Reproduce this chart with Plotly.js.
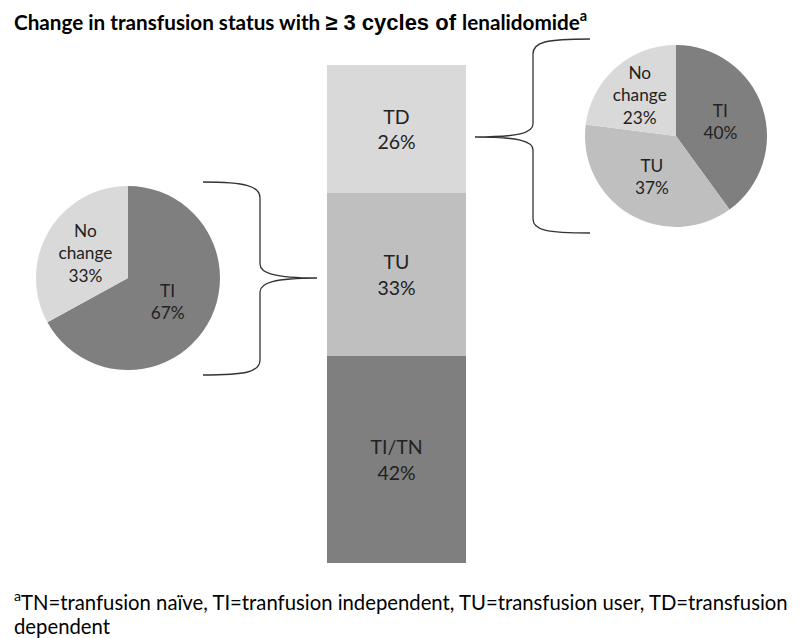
<!DOCTYPE html>
<html>
<head>
<meta charset="utf-8">
<script src="https://cdn.plot.ly/plotly-3.0.1.min.js"></script>
<style>html,body{margin:0;padding:0;background:#fff;}#chart{width:800px;height:638px;}</style>
</head>
<body>
<div id="chart"></div>
<script>
// Stacked bar: overall transfusion status
const barCategories = ["TI/TN", "TU", "TD"];
const barValues = [42, 33, 26];
const barColors = ["#7f7f7f", "#bfbfbf", "#d9d9d9"];

// Left pie: outcome of TU patients
const leftLabels = ["TI", "No change"];
const leftValues = [67, 33];
const leftColors = ["#7f7f7f", "#d9d9d9"];

// Right pie: outcome of TD patients
const rightLabels = ["TI", "TU", "No change"];
const rightValues = [40, 37, 23];
const rightColors = ["#7f7f7f", "#bfbfbf", "#d9d9d9"];

const W = 800, H = 638;
const px = x => x / W, py = y => 1 - y / H;
function pathPx(cmds) {
  return cmds.map(c => c[0] + " " + c.slice(1).map((v, i) => i % 2 === 0 ? px(v).toFixed(5) : py(v).toFixed(5)).join(" ")).join(" ");
}

const FAM = "Lato, 'Open Sans', sans-serif";
const pieFont = {family: FAM, size: 17.5, color: "#222"};

const traces = barCategories.map((c, i) => ({
  type: "bar",
  x: [0],
  y: [barValues[i]],
  name: c,
  marker: {color: barColors[i], line: {width: 0}},
  text: [c + "<br>" + barValues[i] + "%"],
  textposition: "inside",
  insidetextanchor: "middle",
  textfont: {family: FAM, size: 19.5, color: "#222"},
  hoverinfo: "skip",
  xaxis: "x", yaxis: "y"
}));

function pieTrace(labels, values, colors, domain) {
  return {
    type: "pie",
    labels: labels,
    values: values,
    text: labels.map((l, i) => l.replace(" ", "<br>") + "<br>" + values[i] + "%"),
    textinfo: "text",
    textposition: "inside",
    insidetextorientation: "horizontal",
    textfont: pieFont,
    marker: {colors: colors, line: {width: 0}},
    sort: false,
    direction: "clockwise",
    rotation: 0,
    domain: domain,
    showlegend: false,
    hoverinfo: "skip"
  };
}

traces.push(pieTrace(leftLabels, leftValues, leftColors,
  {x: [px(128 - 92), px(128 + 92)], y: [py(278 + 92), py(278 - 92)]}));
traces.push(pieTrace(rightLabels, rightValues, rightColors,
  {x: [px(676 - 91), px(676 + 91)], y: [py(136 + 91), py(136 - 91)]}));

const leftBrace = pathPx([
  ["M", 203, 182], ["C", 246, 182, 260, 186, 260, 198], ["L", 260, 264],
  ["C", 260, 273, 274, 278, 317, 278], ["C", 274, 278, 260, 283, 260, 292],
  ["L", 260, 360], ["C", 260, 372, 246, 375, 203, 375]
]);
const rightBrace = pathPx([
  ["M", 590, 39], ["C", 546, 39, 533, 42, 533, 54], ["L", 533, 124],
  ["C", 533, 133, 518, 137, 475, 137], ["C", 518, 137, 533, 141, 533, 150],
  ["L", 533, 219], ["C", 533, 230, 546, 233, 590, 233]
]);

const layout = {
  width: W, height: H,
  margin: {l: 0, r: 0, t: 0, b: 0},
  paper_bgcolor: "#fff", plot_bgcolor: "rgba(0,0,0,0)",
  barmode: "stack", bargap: 0,
  showlegend: false,
  uniformtext: {minsize: 17, mode: "show"},
  xaxis: {domain: [px(327), px(466)], range: [-0.5, 0.5], visible: false, fixedrange: true},
  yaxis: {domain: [py(563), py(65)], range: [0, 101], visible: false, fixedrange: true},
  shapes: [
    {type: "path", xref: "paper", yref: "paper", path: leftBrace, line: {color: "#333", width: 1.3}},
    {type: "path", xref: "paper", yref: "paper", path: rightBrace, line: {color: "#333", width: 1.3}}
  ],
  annotations: [
    {
      xref: "paper", yref: "paper", x: px(12), y: py(21), xanchor: "left", yanchor: "middle", showarrow: false,
      text: "<b>Change in transfusion status with </b>" +
            "<span style=\"font-family:'Liberation Sans', Arial; font-size:22px\"><b>≥ 3 cycles of </b></span>" +
            "<b>lenalidomide<sup>a</sup></b>",
      font: {family: FAM, size: 20.7, color: "#000"}
    },
    {
      xref: "paper", yref: "paper", x: px(12), y: py(600), xanchor: "left", yanchor: "middle", showarrow: false,
      text: "<sup>a</sup>TN=tranfusion naïve, TI=tranfusion independent, TU=transfusion user, TD=transfusion",
      font: {family: FAM, size: 20.3, color: "#000"}
    },
    {
      xref: "paper", yref: "paper", x: px(12), y: py(626), xanchor: "left", yanchor: "middle", showarrow: false,
      text: "dependent",
      font: {family: FAM, size: 20.3, color: "#000"}
    }
  ]
};

Plotly.newPlot("chart", traces, layout, {staticPlot: true, displayModeBar: false});
</script>
</body>
</html>
